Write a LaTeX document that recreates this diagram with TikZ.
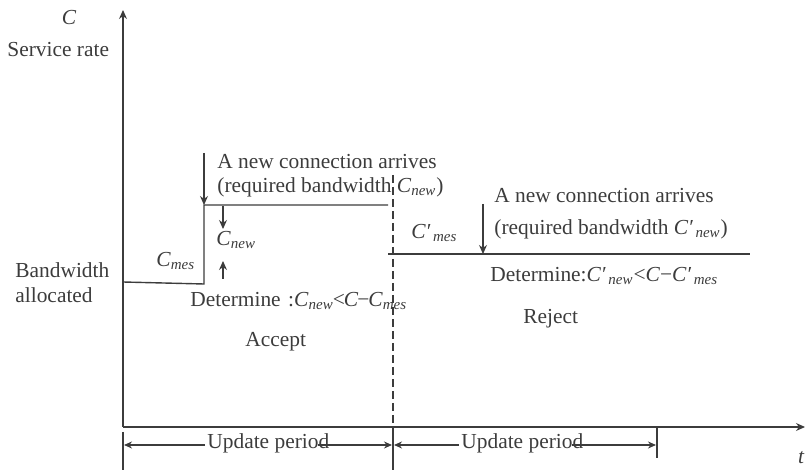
\documentclass[tikz,border=0pt]{standalone}
\usepackage{fontspec}
\setmainfont{Liberation Serif}
\usetikzlibrary{arrows.meta}
\definecolor{ink}{HTML}{3C3C3C}
\newcommand{\Cs}[1]{\textit{C}\textsubscript{\textit{#1}}}
\newcommand{\Cps}[1]{\textit{C′}\textsubscript{\,\textit{#1}}}
\tikzset{
  lbl/.style={inner sep=0pt, text=ink, font=\fontsize{10.7}{13}\selectfont},
  axisline/.style={draw=ink, line width=0.6pt},
  rateline/.style={draw=ink, line width=0.7pt},
  tip/.style={-{Stealth[length=4.5pt,width=4pt]}},
  ptip/.style={-{Stealth[length=4pt,width=3.5pt]}},
}
\begin{document}
\begin{tikzpicture}[x=0.5pt,y=-0.5pt]
\useasboundingbox (0,0) rectangle (805,470);

% axes
\coordinate (o) at (123,427);
\coordinate (ytop) at (123,10);
\coordinate (xend) at (805,427);
\draw[axisline,tip] (o) -- (ytop);
\draw[axisline,tip] (o) -- (xend);

% axis labels
\node[lbl, font=\fontsize{10.7}{13}\selectfont\itshape] (clab) at (69,18) {C};
\node[lbl, anchor=west] (srate) at (7,50) {Service rate};
\node[lbl, anchor=west] (bwa) at (15,270) {Bandwidth};
\node[lbl, anchor=west] (bwb) at (15,295) {allocated};
\node[lbl, font=\fontsize{10.7}{13}\selectfont\itshape] (tlab) at (801,458) {t};

% end of first update period
\draw[ink, dashed, dash pattern=on 4pt off 2pt, line width=0.6pt] (393,175) -- (393,427);

% allocated bandwidth over time
\coordinate (s0) at (123,282);
\coordinate (s1) at (204,284);
\coordinate (s2) at (204,205);
\coordinate (s3) at (388,205);
\coordinate (r0) at (388,254);
\coordinate (r1) at (750,254);
\draw[rateline] (s0) -- (s1) -- (s2) -- (s3);
\draw[rateline] (r0) -- (r1);

% first connection: accepted
\coordinate (a0) at (204,153);
\draw[ink, line width=0.6pt, tip] (a0) -- (s2);
\node[lbl, anchor=west] (arr1) at (217,162) {A new connection arrives};
\node[lbl, anchor=west] (req1) at (217,187) {(required bandwidth \Cs{new})};
\coordinate (d0) at (223,206);
\coordinate (d1) at (223,229);
\draw[ink, line width=0.6pt, tip] (d0) -- (d1);
\node[lbl, anchor=west] (cnew) at (216,240) {\Cs{new}};
\coordinate (u0) at (223,279);
\coordinate (u1) at (223,261);
\draw[ink, line width=0.6pt, tip] (u0) -- (u1);
\node[lbl, anchor=west] (cmes) at (156,261) {\Cs{mes}};
\node[lbl, anchor=west] (det1) at (190,301) {Determine\hspace{0.35em}:\Cs{new}\kern-0.5pt<\kern-0.5pt\textit{C}\kern-0.5pt−\kern-0.5pt\Cs{mes}};
\node[lbl, anchor=west] (acc) at (245,342) {Accept};

% second connection: rejected
\coordinate (b0) at (483,204);
\coordinate (b1) at (483,254);
\draw[ink, line width=0.6pt, tip] (b0) -- (b1);
\node[lbl, anchor=west] (arr2) at (494,196) {A new connection arrives};
\node[lbl, anchor=west] (req2) at (494,229) {(required bandwidth \Cps{new})};
\node[lbl, anchor=west] (cpmes) at (411,233) {\Cps{mes}};
\node[lbl, anchor=west] (det2) at (490,276) {Determine:\Cps{new}<\textit{C}−\Cps{mes}};
\node[lbl, anchor=west] (rej) at (523,319) {Reject};

% update periods
\coordinate (k0a) at (123,432);
\coordinate (k0b) at (123,470);
\coordinate (k1a) at (393,427);
\coordinate (k1b) at (393,470);
\coordinate (k2a) at (657,427);
\coordinate (k2b) at (657,458);
\draw[ink, line width=0.6pt] (k0a) -- (k0b);
\draw[ink, line width=0.6pt] (k1a) -- (k1b);
\draw[ink, line width=0.6pt] (k2a) -- (k2b);
\node[lbl, anchor=west] (up1) at (207,443) {Update period};
\node[lbl, anchor=west] (up2) at (461,443) {Update period};
\coordinate (p0) at (124,445);
\coordinate (p1) at (392,445);
\coordinate (p2) at (394,445);
\coordinate (p3) at (656,445);
\coordinate (q0) at (205,445);
\coordinate (q1) at (318,445);
\coordinate (q2) at (459,445);
\coordinate (q3) at (572,445);
\draw[ink, line width=0.6pt, ptip] (q0) -- (p0);
\draw[ink, line width=0.6pt, ptip] (q1) -- (p1);
\draw[ink, line width=0.6pt, ptip] (q2) -- (p2);
\draw[ink, line width=0.6pt, ptip] (q3) -- (p3);
\end{tikzpicture}
\end{document}
